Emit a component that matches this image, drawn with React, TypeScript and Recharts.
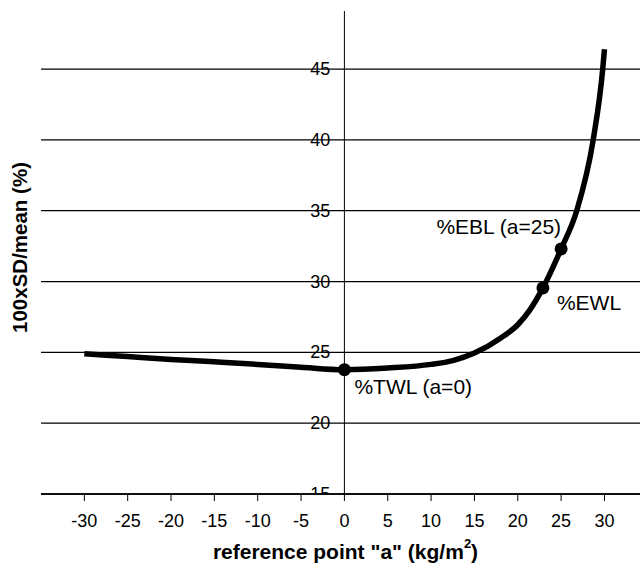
import {
  ComposedChart,
  Label,
  Line,
  ReferenceLine,
  Scatter,
  XAxis,
  YAxis,
} from "recharts";

const FONT = '"Liberation Sans", Arial, Helvetica, sans-serif';

// reference point "a" (kg/m2) and 100xSD/mean (%)
const CURVE_A = [-30, -25, -20, -15, -10, -5, 0, 5, 10, 12.5, 15, 18, 20, 21.4, 22.9, 25, 26.8, 28.7, 29.8, 30];
const CURVE_CV = [24.9, 24.7, 24.5, 24.33, 24.15, 23.95, 23.78, 23.9, 24.15, 24.42, 24.95, 26.0, 26.95, 28.0, 29.55, 32.3, 35, 40, 45, 46.4];

const MARK_A = [0, 22.9, 25];
const MARK_CV = [23.78, 29.55, 32.3];
const MARK_LABELS = ["%TWL (a=0)", "%EWL", "%EBL (a=25)"];

const X_TICKS = [-30, -25, -20, -15, -10, -5, 0, 5, 10, 15, 20, 25, 30];
const Y_TICKS = [15, 20, 25, 30, 35, 40, 45];

// where each annotation sits relative to its dot
const MARK_TEXT: Record<string, { dx: number; dy: number; anchor: "start" | "end" }> = {
  "%TWL (a=0)": { dx: 10, dy: 17, anchor: "start" },
  "%EWL": { dx: 14, dy: 15, anchor: "start" },
  "%EBL (a=25)": { dx: 0, dy: -22, anchor: "end" },
};

function XTitle({ viewBox }: any) {
  if (!viewBox) return null;
  return (
    <text
      x={viewBox.x + viewBox.width / 2 + 5}
      y={viewBox.y + 57}
      textAnchor="middle"
      dominantBaseline="central"
      fill="#000"
      style={{ fontSize: 21, fontWeight: 700, fontFamily: FONT }}
    >
      reference point "a" (kg/m
      <tspan baselineShift="super" style={{ fontSize: 13 }}>
        2
      </tspan>
      )
    </text>
  );
}

function YTitle({ viewBox }: any) {
  if (!viewBox) return null;
  const cx = viewBox.x + 19.5;
  const cy = viewBox.y + viewBox.height / 2 - 5;
  return (
    <text
      x={cx}
      y={cy}
      transform={`rotate(-90 ${cx} ${cy})`}
      textAnchor="middle"
      dominantBaseline="central"
      fill="#000"
      style={{ fontSize: 20.5, fontWeight: 700, fontFamily: FONT }}
    >
      100xSD/mean (%)
    </text>
  );
}

function TickText(props: any) {
  const { cx, cy, payload } = props;
  return (
    <text
      x={cx - 14}
      y={cy}
      textAnchor="end"
      dominantBaseline="central"
      fill="#000"
      style={{ fontSize: 18, fontFamily: FONT }}
    >
      {payload.cv}
    </text>
  );
}

function MarkDot(props: any) {
  const { cx, cy, payload } = props;
  const t = MARK_TEXT[payload.name];
  return (
    <g>
      <circle cx={cx} cy={cy} r={6.5} fill="#000" />
      <text
        x={cx + t.dx}
        y={cy + t.dy}
        textAnchor={t.anchor}
        dominantBaseline="central"
        fill="#000"
        style={{ fontSize: 21, fontFamily: FONT }}
      >
        {payload.name}
      </text>
    </g>
  );
}

export default function App() {
  const curve = CURVE_A.map((a, i) => ({ a, cv: CURVE_CV[i] }));
  const marks = MARK_A.map((a, i) => ({ a, cv: MARK_CV[i], name: MARK_LABELS[i] }));
  const yTickPts = Y_TICKS.map((v) => ({ a: 0, cv: v }));

  return (
    <div style={{ position: "absolute", left: 0, top: 0, background: "#fff" }}>
      <ComposedChart
        width={640}
        height={564}
        margin={{ top: 11, right: 0, bottom: 0, left: 0 }}
        style={{ fontFamily: FONT }}
      >
        <XAxis
          type="number"
          dataKey="a"
          domain={[-35, 34.1]}
          ticks={X_TICKS}
          interval={0}
          allowDataOverflow
          height={70}
          tickSize={7}
          tickMargin={13}
          axisLine={{ stroke: "#000", strokeWidth: 1.3 }}
          tickLine={{ stroke: "#000", strokeWidth: 1 }}
          tick={{ fill: "#000", fontSize: 18, fontFamily: FONT }}
          label={<Label content={XTitle} />}
        />
        <YAxis
          type="number"
          dataKey="cv"
          domain={[15, 49.1]}
          allowDataOverflow
          width={41}
          tick={false}
          tickLine={false}
          axisLine={false}
          label={<Label content={YTitle} />}
        />
        {Y_TICKS.map((v) => (
          <ReferenceLine key={v} y={v} stroke="#000" strokeWidth={1.3} />
        ))}
        <ReferenceLine x={0} stroke="#000" strokeWidth={1} />
        <Scatter
          data={yTickPts}
          dataKey="cv"
          shape={TickText}
          isAnimationActive={false}
        />
        <Line
          data={curve}
          dataKey="cv"
          type="monotone"
          stroke="#000"
          strokeWidth={5.5}
          dot={false}
          activeDot={false}
          isAnimationActive={false}
        />
        <Scatter
          data={marks}
          dataKey="cv"
          shape={MarkDot}
          isAnimationActive={false}
        />
      </ComposedChart>
    </div>
  );
}
